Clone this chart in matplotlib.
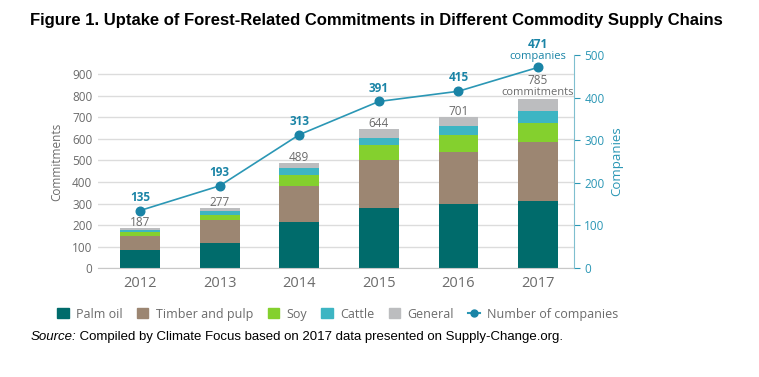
import matplotlib

matplotlib.use("Agg")
import matplotlib.pyplot as plt
from matplotlib.lines import Line2D
from matplotlib.patches import Patch

# data
years = ["2012", "2013", "2014", "2015", "2016", "2017"]
palm_oil = [82, 115, 213, 277, 296, 312]
timber = [66, 106, 168, 226, 244, 276]
soy = [18, 26, 51, 70, 80, 87]
cattle = [12, 18, 31, 32, 39, 56]
general = [9, 12, 26, 39, 42, 54]
totals = [187, 277, 489, 644, 701, 785]
companies = [135, 193, 313, 391, 415, 471]

series = [
    ("Palm oil", palm_oil, "#006b6b"),
    ("Timber and pulp", timber, "#9c8672"),
    ("Soy", soy, "#84d02e"),
    ("Cattle", cattle, "#3db5c3"),
    ("General", general, "#bcbdbf"),
]
LINE = "#2b97b5"
DOT = "#1a84a6"
GRAY = "#6b6b6b"
FONT = "Open Sans"

fig = plt.figure(figsize=(7.59, 3.77), dpi=100)
ax = fig.add_axes([0.129, 0.289, 0.627, 0.565])
ax2 = ax.twinx()

x = list(range(len(years)))
bottom = [0] * len(years)
for name, vals, col in series:
    ax.bar(x, vals, width=0.5, bottom=bottom, color=col, zorder=2)
    bottom = [b + v for b, v in zip(bottom, vals)]

# bar totals; the last one carries a "commitments" caption
n = len(totals)
for i, t in enumerate(totals):
    if i == n - 1:
        ax.annotate("commitments", (i, t), xytext=(0, 0.5), textcoords="offset points",
                    ha="center", va="bottom", color=GRAY, fontsize=8, family=FONT)
        ax.annotate(str(t), (i, t), xytext=(0, 8.5), textcoords="offset points",
                    ha="center", va="bottom", color=GRAY, fontsize=8.5, family=FONT)
    else:
        ax.annotate(str(t), (i, t), xytext=(0, -0.5), textcoords="offset points",
                    ha="center", va="bottom", color=GRAY, fontsize=8.5, family=FONT)

ax.set_xlim(-0.53, 5.45)
ax.set_ylim(0, 990)
ax.set_yticks(range(0, 901, 100))
ax.grid(axis="y", color="#dcdcdc", lw=1, zorder=0)
ax.set_axisbelow(True)
ax.set_xticks(x)
ax.set_xticklabels(years)
for s in ["top", "left", "right"]:
    ax.spines[s].set_visible(False)
ax.spines["bottom"].set_color("#c8c8c8")
ax.tick_params(axis="y", length=0, colors=GRAY, labelsize=8.5, pad=4)
ax.tick_params(axis="x", length=0, colors=GRAY, labelsize=10.5, pad=6)
for lbl in ax.get_xticklabels() + ax.get_yticklabels():
    lbl.set_family(FONT)
ax.set_ylabel("Commitments", color=GRAY, fontsize=8.5, family=FONT, labelpad=6)

ax2.plot(x, companies, color=LINE, lw=1.2, marker="o", ms=6.2,
         markerfacecolor=DOT, markeredgecolor=DOT, zorder=4)
for i, c in enumerate(companies):
    if i == n - 1:
        ax2.annotate("companies", (i, c), xytext=(0, 4), textcoords="offset points",
                     ha="center", va="bottom", color=DOT, fontsize=8, family=FONT)
        ax2.annotate(str(c), (i, c), xytext=(0, 11.5), textcoords="offset points",
                     ha="center", va="bottom", color=DOT, fontsize=8.5,
                     family=FONT, fontweight="bold")
    else:
        ax2.annotate(str(c), (i, c), xytext=(0, 5), textcoords="offset points",
                     ha="center", va="bottom", color=DOT, fontsize=8.5,
                     family=FONT, fontweight="bold")
ax2.set_ylim(0, 500)
ax2.set_yticks(range(0, 501, 100))
for s in ["top", "left", "bottom"]:
    ax2.spines[s].set_visible(False)
ax2.spines["right"].set_color("#7fbfcf")
ax2.tick_params(axis="y", colors=LINE, labelcolor=LINE, labelsize=8.5, length=4)
for lbl in ax2.get_yticklabels():
    lbl.set_family(FONT)
ax2.set_ylabel("Companies", color=LINE, fontsize=9.5, family=FONT, labelpad=4)

handles = [Patch(color=col, label=name) for name, _, col in series]
handles.append(Line2D([], [], color=LINE, marker="o", ms=5, markerfacecolor=DOT,
                      markeredgecolor=DOT, label="Number of companies"))
leg = fig.legend(handles=handles, loc="center", bbox_to_anchor=(0.445, 0.167),
                 ncol=6, frameon=False, handlelength=0.9, handleheight=0.9,
                 handletextpad=0.6, columnspacing=1.15,
                 prop={"family": FONT, "size": 9})
for t in leg.get_texts():
    t.set_color(GRAY)

fig.text(0.04, 0.945,
         "Figure 1. Uptake of Forest-Related Commitments in Different Commodity Supply Chains",
         fontsize=12, fontweight="bold", family="Liberation Sans", va="center")

# source line: italic lead-in followed by regular text
src = fig.text(0.04, 0.105, "Source:", fontsize=9.5, style="italic",
               family="Liberation Sans", va="center")
fig.canvas.draw()
bb = src.get_window_extent().transformed(fig.transFigure.inverted())
fig.text(bb.x1, 0.105, " Compiled by Climate Focus based on 2017 data presented on Supply-Change.org.",
         fontsize=9.5, family="Liberation Sans", va="center")

fig.savefig("out.png", dpi=100)
